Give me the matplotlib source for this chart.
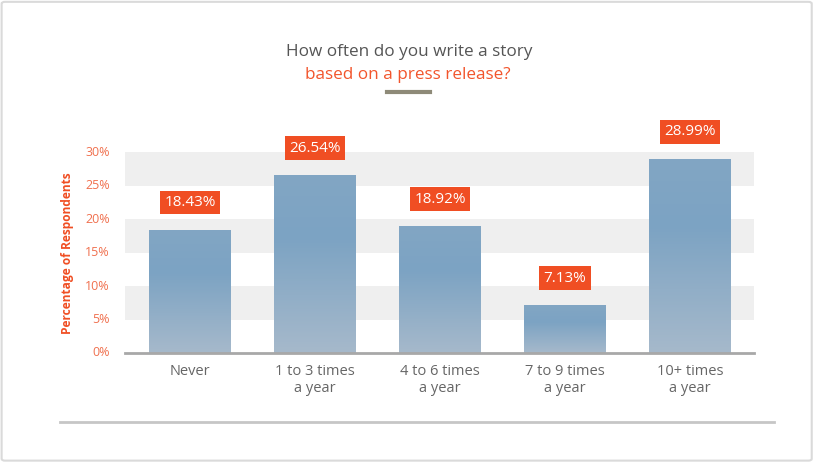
import numpy as np
import matplotlib
matplotlib.use("Agg")
import matplotlib.pyplot as plt
from matplotlib.colors import LinearSegmentedColormap
from matplotlib.patches import FancyBboxPatch
from matplotlib.lines import Line2D

categories = ["Never", "1 to 3 times\na year", "4 to 6 times\na year",
              "7 to 9 times\na year", "10+ times\na year"]
values = [18.43, 26.54, 18.92, 7.13, 28.99]
labels = ["18.43%", "26.54%", "18.92%", "7.13%", "28.99%"]
yticks = [0, 5, 10, 15, 20, 25, 30]
ytick_labels = ["0%", "5%", "10%", "15%", "20%", "25%", "30%"]

ORANGE = "#F04E23"
TICK_ORANGE = "#F0704E"
GREY_TEXT = "#666666"

plt.rcParams["font.family"] = ["Open Sans", "DejaVu Sans"]

W, H = 815, 462
fig = plt.figure(figsize=(W / 100, H / 100), dpi=100)

# outer frame
fig.add_artist(FancyBboxPatch((0.002, 0.003), 0.994, 0.993,
                              boxstyle="round,pad=0,rounding_size=0.004",
                              transform=fig.transFigure, fill=False,
                              edgecolor="#DADADA", linewidth=1.5))

# axes area in pixels
left, right, bottom, top = 125, 754, 353, 152
ax = fig.add_axes([left / W, 1 - bottom / H, (right - left) / W, (bottom - top) / H])

# alternating background bands
for lo in (5, 15, 25):
    ax.axhspan(lo, lo + 5, color="#EFEFEF", zorder=0, linewidth=0)

x = np.arange(len(categories))
bars = ax.bar(x, values, width=0.656, color="none", zorder=2)

cmap = LinearSegmentedColormap.from_list(
    "barfade", [(0.0, "#A6B9CB"), (0.65, "#7CA3C3"), (1.0, "#82A6C4")])
grad = np.linspace(0, 1, 256).reshape(-1, 1)
for b in bars:
    x0, y0 = b.get_x(), b.get_y()
    im = ax.imshow(grad, cmap=cmap, origin="lower", aspect="auto",
                   extent=(x0, x0 + b.get_width(), y0, y0 + b.get_height()),
                   zorder=2)
    im.set_clip_path(b)

ax.set_xlim(-0.52, 4.512)
ax.set_ylim(0, 30)

for xi, v, lab in zip(x, values, labels):
    ax.annotate(lab, xy=(xi, v), xytext=(0, 27), textcoords="offset pixels",
                ha="center", va="center", color="white", fontsize=11,
                fontweight="medium", zorder=4, annotation_clip=False,
                bbox=dict(boxstyle="square,pad=0.28", facecolor=ORANGE,
                          edgecolor="none"))

for s in ("top", "right", "left"):
    ax.spines[s].set_visible(False)
ax.spines["bottom"].set_color("#A8A8A8")
ax.spines["bottom"].set_linewidth(2)
ax.spines["bottom"].set_zorder(3)

ax.set_yticks(yticks)
ax.set_yticklabels(ytick_labels)
ax.set_xticks(x)
ax.set_xticklabels(categories, linespacing=1.2)
ax.tick_params(axis="y", length=0, pad=11, labelsize=9, labelcolor=TICK_ORANGE)
ax.tick_params(axis="x", length=0, pad=8, labelsize=10.5, labelcolor=GREY_TEXT)
for t in ax.get_yticklabels():
    t.set_verticalalignment("center")

fig.text(68 / W, 1 - 253 / H, "Percentage of Respondents", rotation=90,
         ha="center", va="center", color=ORANGE, fontsize=8.6, fontweight="bold")

# title
fig.text(409 / W, 1 - 52 / H, "How often do you write a story", ha="center",
         va="center", color="#555555", fontsize=12.3)
fig.text(408 / W, 1 - 75 / H, "based on a press release?", ha="center",
         va="center", color="#F2552C", fontsize=12.3)
fig.add_artist(Line2D([387 / W, 430 / W], [1 - 92 / H, 1 - 92 / H],
                      transform=fig.transFigure, color="#8E8A78", linewidth=3))

# separator line below chart
fig.add_artist(Line2D([60 / W, 774 / W], [1 - 422 / H, 1 - 422 / H],
                      transform=fig.transFigure, color="#C6C6C6", linewidth=2))

fig.savefig("out.png", dpi=100, facecolor="white")
